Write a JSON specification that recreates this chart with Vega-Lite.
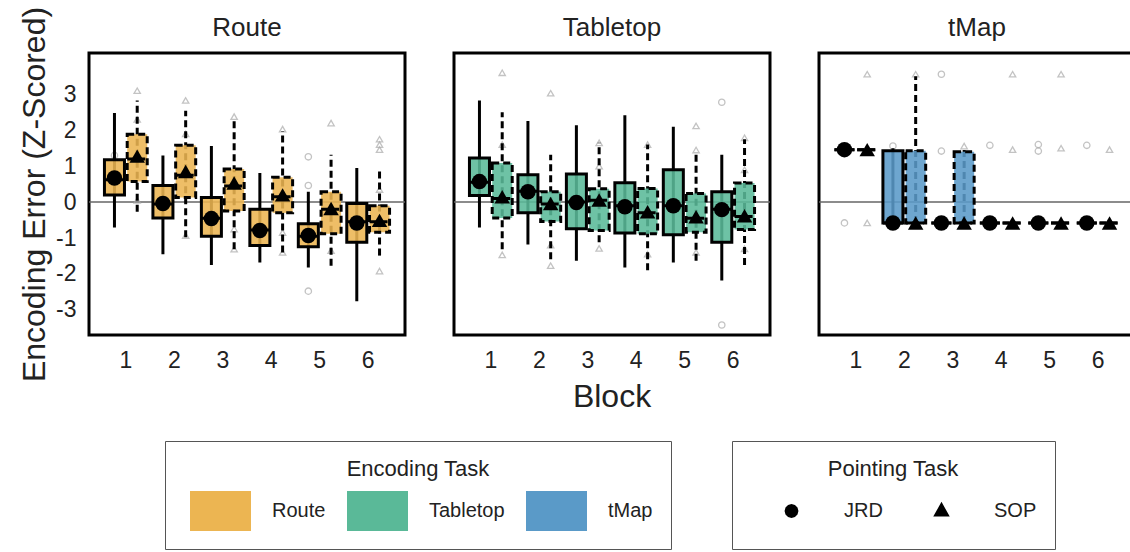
{
  "$schema": "https://vega.github.io/schema/vega-lite/v6.json",
  "config": {
    "font": "Liberation Sans",
    "view": {"stroke": "black", "strokeWidth": 3},
    "axis": {"labelColor": "#222", "titleColor": "#222"}
  },
  "padding": {"left": 18, "top": 6, "right": 5, "bottom": 5},
  "spacing": 43,
  "data": {
    "values": [
      {"kind": "box", "enc": "Route", "block": 1, "task": "JRD", "lo": -0.71, "q1": 0.2, "med": 0.62, "q3": 1.18, "hi": 2.48, "mean": 0.67},
      {"kind": "box", "enc": "Route", "block": 1, "task": "SOP", "lo": -0.27, "q1": 0.57, "med": 1.2, "q3": 1.89, "hi": 2.83, "mean": 1.28},
      {"kind": "box", "enc": "Route", "block": 2, "task": "JRD", "lo": -1.45, "q1": -0.44, "med": -0.05, "q3": 0.46, "hi": 1.3, "mean": -0.04},
      {"kind": "box", "enc": "Route", "block": 2, "task": "SOP", "lo": -0.98, "q1": 0.13, "med": 0.75, "q3": 1.58, "hi": 2.54, "mean": 0.85},
      {"kind": "box", "enc": "Route", "block": 3, "task": "JRD", "lo": -1.75, "q1": -0.95, "med": -0.45, "q3": 0.13, "hi": 1.56, "mean": -0.46},
      {"kind": "box", "enc": "Route", "block": 3, "task": "SOP", "lo": -1.31, "q1": -0.25, "med": 0.45, "q3": 0.92, "hi": 2.31, "mean": 0.53},
      {"kind": "box", "enc": "Route", "block": 4, "task": "JRD", "lo": -1.68, "q1": -1.21, "med": -0.78, "q3": -0.2, "hi": 0.81, "mean": -0.79},
      {"kind": "box", "enc": "Route", "block": 4, "task": "SOP", "lo": -1.4, "q1": -0.3, "med": 0.15, "q3": 0.69, "hi": 1.98, "mean": 0.2},
      {"kind": "box", "enc": "Route", "block": 5, "task": "JRD", "lo": -1.82, "q1": -1.24, "med": -0.95, "q3": -0.6, "hi": 0.29, "mean": -0.93},
      {"kind": "box", "enc": "Route", "block": 5, "task": "SOP", "lo": -1.77, "q1": -0.88, "med": -0.2, "q3": 0.29, "hi": 1.32, "mean": -0.18},
      {"kind": "box", "enc": "Route", "block": 6, "task": "JRD", "lo": -2.76, "q1": -1.12, "med": -0.55, "q3": -0.04, "hi": 0.95, "mean": -0.58},
      {"kind": "box", "enc": "Route", "block": 6, "task": "SOP", "lo": -1.49, "q1": -0.84, "med": -0.55, "q3": -0.1, "hi": 0.9, "mean": -0.51},
      {"kind": "box", "enc": "Tabletop", "block": 1, "task": "JRD", "lo": -0.71, "q1": 0.18, "med": 0.55, "q3": 1.23, "hi": 2.83, "mean": 0.57},
      {"kind": "box", "enc": "Tabletop", "block": 1, "task": "SOP", "lo": -1.31, "q1": -0.44, "med": 0.1, "q3": 1.09, "hi": 2.5, "mean": 0.15},
      {"kind": "box", "enc": "Tabletop", "block": 2, "task": "JRD", "lo": -1.18, "q1": -0.3, "med": 0.3, "q3": 0.76, "hi": 2.26, "mean": 0.29},
      {"kind": "box", "enc": "Tabletop", "block": 2, "task": "SOP", "lo": -1.59, "q1": -0.54, "med": -0.05, "q3": 0.29, "hi": 1.32, "mean": -0.04},
      {"kind": "box", "enc": "Tabletop", "block": 3, "task": "JRD", "lo": -1.63, "q1": -0.74, "med": 0.0, "q3": 0.78, "hi": 2.14, "mean": -0.01},
      {"kind": "box", "enc": "Tabletop", "block": 3, "task": "SOP", "lo": -1.12, "q1": -0.79, "med": 0.05, "q3": 0.37, "hi": 1.65, "mean": 0.06},
      {"kind": "box", "enc": "Tabletop", "block": 4, "task": "JRD", "lo": -1.82, "q1": -0.86, "med": -0.1, "q3": 0.54, "hi": 2.42, "mean": -0.13},
      {"kind": "box", "enc": "Tabletop", "block": 4, "task": "SOP", "lo": -1.9, "q1": -0.88, "med": -0.3, "q3": 0.38, "hi": 1.6, "mean": -0.27},
      {"kind": "box", "enc": "Tabletop", "block": 5, "task": "JRD", "lo": -1.68, "q1": -0.91, "med": -0.1, "q3": 0.9, "hi": 2.1, "mean": -0.1},
      {"kind": "box", "enc": "Tabletop", "block": 5, "task": "SOP", "lo": -1.63, "q1": -0.84, "med": -0.45, "q3": 0.24, "hi": 1.37, "mean": -0.41},
      {"kind": "box", "enc": "Tabletop", "block": 6, "task": "JRD", "lo": -2.18, "q1": -1.12, "med": -0.2, "q3": 0.29, "hi": 1.32, "mean": -0.21},
      {"kind": "box", "enc": "Tabletop", "block": 6, "task": "SOP", "lo": -1.75, "q1": -0.76, "med": -0.4, "q3": 0.53, "hi": 1.75, "mean": -0.38},
      {"kind": "box", "enc": "tMap", "block": 1, "task": "JRD", "lo": 1.46, "q1": 1.46, "med": 1.46, "q3": 1.46, "hi": 1.46, "mean": 1.46},
      {"kind": "box", "enc": "tMap", "block": 1, "task": "SOP", "lo": 1.46, "q1": 1.46, "med": 1.46, "q3": 1.46, "hi": 1.46, "mean": 1.46},
      {"kind": "box", "enc": "tMap", "block": 2, "task": "JRD", "lo": -0.58, "q1": -0.58, "med": -0.58, "q3": 1.43, "hi": 1.5, "mean": -0.58},
      {"kind": "box", "enc": "tMap", "block": 2, "task": "SOP", "lo": -0.58, "q1": -0.58, "med": -0.58, "q3": 1.43, "hi": 3.5, "mean": -0.58},
      {"kind": "box", "enc": "tMap", "block": 3, "task": "JRD", "lo": -0.58, "q1": -0.58, "med": -0.58, "q3": -0.58, "hi": -0.58, "mean": -0.58},
      {"kind": "box", "enc": "tMap", "block": 3, "task": "SOP", "lo": -0.58, "q1": -0.58, "med": -0.58, "q3": 1.4, "hi": 1.45, "mean": -0.58},
      {"kind": "box", "enc": "tMap", "block": 4, "task": "JRD", "lo": -0.58, "q1": -0.58, "med": -0.58, "q3": -0.58, "hi": -0.58, "mean": -0.58},
      {"kind": "box", "enc": "tMap", "block": 4, "task": "SOP", "lo": -0.58, "q1": -0.58, "med": -0.58, "q3": -0.58, "hi": -0.58, "mean": -0.58},
      {"kind": "box", "enc": "tMap", "block": 5, "task": "JRD", "lo": -0.58, "q1": -0.58, "med": -0.58, "q3": -0.58, "hi": -0.58, "mean": -0.58},
      {"kind": "box", "enc": "tMap", "block": 5, "task": "SOP", "lo": -0.58, "q1": -0.58, "med": -0.58, "q3": -0.58, "hi": -0.58, "mean": -0.58},
      {"kind": "box", "enc": "tMap", "block": 6, "task": "JRD", "lo": -0.58, "q1": -0.58, "med": -0.58, "q3": -0.58, "hi": -0.58, "mean": -0.58},
      {"kind": "box", "enc": "tMap", "block": 6, "task": "SOP", "lo": -0.58, "q1": -0.58, "med": -0.58, "q3": -0.58, "hi": -0.58, "mean": -0.58},
      {"kind": "out", "enc": "Route", "block": 1, "task": "SOP", "out": 3.1},
      {"kind": "out", "enc": "Route", "block": 1, "task": "SOP", "out": 2.3},
      {"kind": "out", "enc": "Route", "block": 1, "task": "SOP", "out": 0.05},
      {"kind": "out", "enc": "Route", "block": 1, "task": "JRD", "out": 1.3},
      {"kind": "out", "enc": "Route", "block": 2, "task": "SOP", "out": 2.83},
      {"kind": "out", "enc": "Route", "block": 2, "task": "SOP", "out": 1.9},
      {"kind": "out", "enc": "Route", "block": 2, "task": "SOP", "out": -0.93},
      {"kind": "out", "enc": "Route", "block": 3, "task": "SOP", "out": 2.38},
      {"kind": "out", "enc": "Route", "block": 3, "task": "SOP", "out": -0.75},
      {"kind": "out", "enc": "Route", "block": 3, "task": "SOP", "out": -1.31},
      {"kind": "out", "enc": "Route", "block": 4, "task": "SOP", "out": 2.03},
      {"kind": "out", "enc": "Route", "block": 4, "task": "SOP", "out": -0.85},
      {"kind": "out", "enc": "Route", "block": 4, "task": "SOP", "out": -1.4},
      {"kind": "out", "enc": "Route", "block": 5, "task": "JRD", "out": 1.26},
      {"kind": "out", "enc": "Route", "block": 5, "task": "JRD", "out": 0.46},
      {"kind": "out", "enc": "Route", "block": 5, "task": "JRD", "out": -2.48},
      {"kind": "out", "enc": "Route", "block": 5, "task": "SOP", "out": 2.2},
      {"kind": "out", "enc": "Route", "block": 5, "task": "SOP", "out": -1.35},
      {"kind": "out", "enc": "Route", "block": 6, "task": "SOP", "out": 1.75},
      {"kind": "out", "enc": "Route", "block": 6, "task": "SOP", "out": 1.6},
      {"kind": "out", "enc": "Route", "block": 6, "task": "SOP", "out": 1.46},
      {"kind": "out", "enc": "Route", "block": 6, "task": "SOP", "out": 0.35},
      {"kind": "out", "enc": "Route", "block": 6, "task": "SOP", "out": -1.92},
      {"kind": "out", "enc": "Tabletop", "block": 1, "task": "SOP", "out": 3.6},
      {"kind": "out", "enc": "Tabletop", "block": 1, "task": "SOP", "out": 1.6},
      {"kind": "out", "enc": "Tabletop", "block": 1, "task": "SOP", "out": -1.47},
      {"kind": "out", "enc": "Tabletop", "block": 2, "task": "SOP", "out": 3.03},
      {"kind": "out", "enc": "Tabletop", "block": 2, "task": "SOP", "out": -1.2},
      {"kind": "out", "enc": "Tabletop", "block": 2, "task": "SOP", "out": -1.77},
      {"kind": "out", "enc": "Tabletop", "block": 3, "task": "SOP", "out": 1.65},
      {"kind": "out", "enc": "Tabletop", "block": 3, "task": "SOP", "out": 1.0},
      {"kind": "out", "enc": "Tabletop", "block": 3, "task": "SOP", "out": -1.29},
      {"kind": "out", "enc": "Tabletop", "block": 4, "task": "SOP", "out": 1.6},
      {"kind": "out", "enc": "Tabletop", "block": 4, "task": "SOP", "out": -1.45},
      {"kind": "out", "enc": "Tabletop", "block": 5, "task": "SOP", "out": 2.12},
      {"kind": "out", "enc": "Tabletop", "block": 5, "task": "SOP", "out": 1.45},
      {"kind": "out", "enc": "Tabletop", "block": 5, "task": "SOP", "out": -1.4},
      {"kind": "out", "enc": "Tabletop", "block": 6, "task": "JRD", "out": 2.78},
      {"kind": "out", "enc": "Tabletop", "block": 6, "task": "JRD", "out": -3.42},
      {"kind": "out", "enc": "Tabletop", "block": 6, "task": "SOP", "out": 1.79},
      {"kind": "out", "enc": "Tabletop", "block": 6, "task": "SOP", "out": 0.9},
      {"kind": "out", "enc": "Tabletop", "block": 6, "task": "SOP", "out": -1.3},
      {"kind": "out", "enc": "tMap", "block": 1, "task": "JRD", "out": -0.58},
      {"kind": "out", "enc": "tMap", "block": 1, "task": "SOP", "out": 3.56},
      {"kind": "out", "enc": "tMap", "block": 1, "task": "SOP", "out": -0.58},
      {"kind": "out", "enc": "tMap", "block": 2, "task": "JRD", "out": 1.56},
      {"kind": "out", "enc": "tMap", "block": 2, "task": "SOP", "out": 3.56},
      {"kind": "out", "enc": "tMap", "block": 3, "task": "JRD", "out": 3.56},
      {"kind": "out", "enc": "tMap", "block": 3, "task": "JRD", "out": 1.42},
      {"kind": "out", "enc": "tMap", "block": 3, "task": "SOP", "out": 1.56},
      {"kind": "out", "enc": "tMap", "block": 4, "task": "JRD", "out": 1.58},
      {"kind": "out", "enc": "tMap", "block": 4, "task": "SOP", "out": 3.56},
      {"kind": "out", "enc": "tMap", "block": 4, "task": "SOP", "out": 1.46},
      {"kind": "out", "enc": "tMap", "block": 5, "task": "JRD", "out": 1.6},
      {"kind": "out", "enc": "tMap", "block": 5, "task": "JRD", "out": 1.42},
      {"kind": "out", "enc": "tMap", "block": 5, "task": "SOP", "out": 3.56},
      {"kind": "out", "enc": "tMap", "block": 5, "task": "SOP", "out": 1.5},
      {"kind": "out", "enc": "tMap", "block": 6, "task": "JRD", "out": 1.58},
      {"kind": "out", "enc": "tMap", "block": 6, "task": "SOP", "out": 1.46}
    ]
  },
  "facet": {
    "column": {
      "field": "enc", "type": "nominal", "sort": ["Route", "Tabletop", "tMap"], "title": "Block",
      "header": {"labelOrient": "top", "titleOrient": "bottom", "labelFontSize": 26, "titleFontSize": 32, "titleFontWeight": "normal", "labelPadding": 10, "titlePadding": 0, "labelColor": "#222", "titleColor": "#222"}
    }
  },
  "spec": {
    "width": 316,
    "height": 282,
    "encoding": {
      "x": {"field": "block", "type": "ordinal", "scale": {"paddingInner": 0.08, "paddingOuter": 0.3}, "axis": {"title": null, "labelAngle": 0, "labelFontSize": 23, "ticks": false, "domain": false, "labelPadding": 12}},
      "xOffset": {"field": "task", "type": "nominal", "scale": {"domain": ["JRD", "SOP"], "paddingInner": 0.12, "paddingOuter": 0.04}}
    },
    "layer": [
      {
        "transform": [{"filter": "datum.kind === 'box' && datum.block === 1 && datum.task === 'JRD'"}],
        "mark": {"type": "rule", "color": "#666", "strokeWidth": 1.5},
        "encoding": {
          "x": null, "xOffset": null,
          "y": {"datum": 0, "type": "quantitative", "scale": {"domain": [-3.7, 4.15], "nice": false, "zero": false}, "axis": {"title": "Encoding Error (Z-Scored)", "values": [-3, -2, -1, 0, 1, 2, 3], "labelExpr": "datum.value < 0 ? '-' + abs(datum.value) : '' + datum.value", "grid": false, "ticks": false, "domain": false, "labelFontSize": 23, "titleFontSize": 32, "titleFontWeight": "normal", "labelPadding": 10, "titlePadding": 4}}
        }
      },
      {
        "transform": [{"filter": "datum.kind === 'out' && datum.task === 'JRD'"}],
        "mark": {"type": "point", "shape": "circle", "filled": false, "size": 40, "strokeWidth": 1.3, "color": "#aaaaaa"},
        "encoding": {"y": {"field": "out", "type": "quantitative"}}
      },
      {
        "transform": [{"filter": "datum.kind === 'out' && datum.task === 'SOP'"}],
        "mark": {"type": "point", "shape": "triangle-up", "filled": false, "size": 40, "strokeWidth": 1.3, "color": "#aaaaaa"},
        "encoding": {"y": {"field": "out", "type": "quantitative"}}
      },
      {
        "transform": [{"filter": "datum.kind === 'box'"}],
        "mark": {"type": "rule", "color": "black", "strokeWidth": 3},
        "encoding": {
          "y": {"field": "lo", "type": "quantitative"},
          "y2": {"field": "hi"},
          "strokeDash": {"field": "task", "type": "nominal", "scale": {"domain": ["SOP", "JRD"], "range": [[7, 4], [1, 0]]}, "legend": null}
        }
      },
      {
        "transform": [{"filter": "datum.kind === 'box'"}],
        "mark": {"type": "bar", "stroke": "black", "strokeWidth": 3, "fillOpacity": 0.88},
        "encoding": {
          "y": {"field": "q1", "type": "quantitative"},
          "y2": {"field": "q3"},
          "strokeDash": {"field": "task", "type": "nominal", "scale": {"domain": ["SOP", "JRD"], "range": [[7, 4], [1, 0]]}, "legend": null},
          "color": {
            "field": "enc", "type": "nominal",
            "scale": {"domain": ["Route", "Tabletop", "tMap"], "range": ["#ecb552", "#5ab998", "#5a9ac8"]},
            "legend": {
              "title": "Encoding Task", "orient": "none", "legendX": 76, "legendY": 388, "direction": "horizontal", "columns": 3,
              "titleAnchor": "middle", "titleFontSize": 22, "titleFontWeight": "normal", "titleColor": "#222", "titlePadding": 10,
              "labelFontSize": 20, "labelColor": "#222", "labelOffset": 21, "columnPadding": 14, "symbolOffset": 7,
              "symbolSize": 3721, "symbolStrokeWidth": 0, "clipHeight": 40, "padding": 18, "strokeColor": "#555",
              "encode": {"symbols": {"shape": {"value": "M-1,-0.377H1V0.377H-1Z"}, "stroke": {"value": "transparent"}, "strokeWidth": {"value": 0}, "opacity": {"value": 1}, "fillOpacity": {"value": 0.92}}}
            }
          }
        }
      },
      {
        "transform": [{"filter": "datum.kind === 'box'"}],
        "mark": {"type": "bar", "stroke": "black", "strokeWidth": 3, "fill": null, "fillOpacity": 0},
        "encoding": {
          "y": {"field": "med", "type": "quantitative"},
          "y2": {"field": "med"},
          "strokeDash": {"field": "task", "type": "nominal", "scale": {"domain": ["SOP", "JRD"], "range": [[7, 4], [1, 0]]}, "legend": null}
        }
      },
      {
        "transform": [{"filter": "datum.kind === 'box' && datum.task === 'JRD'"}],
        "mark": {"type": "point", "shape": "circle", "filled": true, "size": 240, "color": "black", "opacity": 1},
        "encoding": {"y": {"field": "mean", "type": "quantitative"}}
      },
      {
        "transform": [{"filter": "datum.kind === 'box' && datum.task === 'SOP'"}],
        "mark": {"type": "point", "shape": "triangle-up", "filled": true, "size": 240, "color": "black", "opacity": 1},
        "encoding": {"y": {"field": "mean", "type": "quantitative"}}
      },
      {
        "transform": [{"filter": "datum.kind === 'box'"}],
        "mark": {"type": "point", "filled": true, "size": 0, "strokeWidth": 0, "opacity": 0, "color": "black"},
        "encoding": {
          "y": {"field": "mean", "type": "quantitative"},
          "shape": {
            "field": "task", "type": "nominal",
            "scale": {"range": [
              "M-1,-0.35H1M1,-0.35V0.35M1,0.35H-1M-1,0.35V-0.35M-1,0H1M0,-0.35V-0.57M0,0.35V0.57M0.21,0L0.182,0.105L0.105,0.182L0,0.21L-0.105,0.182L-0.182,0.105L-0.21,0L-0.182,-0.105L-0.105,-0.182L0,-0.21L0.105,-0.182L0.182,-0.105Z",
              "M-1,-0.35H-0.82M-0.7,-0.35H-0.52M-0.4,-0.35H-0.22M-0.1,-0.35H0.08M0.2,-0.35H0.38M0.5,-0.35H0.68M0.8,-0.35H1M-1,0.35H-0.82M-0.7,0.35H-0.52M-0.4,0.35H-0.22M-0.1,0.35H0.08M0.2,0.35H0.38M0.5,0.35H0.68M0.8,0.35H1M-1,0H-0.82M-0.7,0H-0.52M-0.4,0H-0.22M0.2,0H0.38M0.5,0H0.68M0.8,0H1M-1,-0.35V-0.17M-1,-0.05V0.13M-1,0.23V0.35M1,-0.35V-0.17M1,-0.05V0.13M1,0.23V0.35M0,-0.35V-0.57M0,0.35V0.57M0,-0.28L0.25,0.17L-0.25,0.17Z"
            ]},
            "legend": {
              "title": "Pointing Task", "orient": "none", "legendX": 643, "legendY": 388, "direction": "horizontal", "columns": 2,
              "titleAnchor": "middle", "titleFontSize": 22, "titleFontWeight": "normal", "titleColor": "#222", "titlePadding": 10,
              "labelFontSize": 20, "labelColor": "#222", "labelOffset": 18, "columnPadding": 17, "symbolOffset": 7,
              "symbolSize": 4356, "symbolStrokeWidth": 2.5, "clipHeight": 40, "padding": 18, "strokeColor": "#555",
              "encode": {"symbols": {
                "size": {"value": 4356},
                "fill": {"value": "black"}, "stroke": {"value": "black"}, "strokeWidth": {"value": 2.5}, "strokeCap": {"value": "square"},
                "opacity": {"value": 1}, "fillOpacity": {"value": 1}, "strokeOpacity": {"value": 1}
              }}
            }
          }
        }
      }
    ]
  }
}
